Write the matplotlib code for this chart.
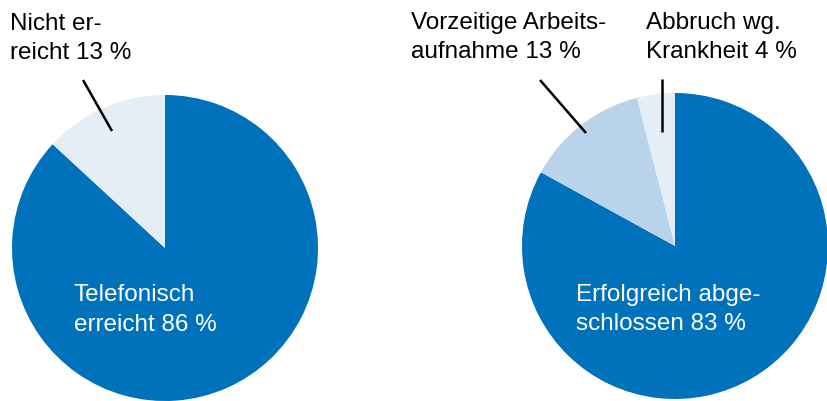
import matplotlib.pyplot as plt

# Data
left_labels = ["Telefonisch\nerreicht 86 %", "Nicht er-\nreicht 13 %"]
left_values = [86, 13]
right_labels = ["Erfolgreich abge-\nschlossen 83 %", "Vorzeitige Arbeits-\naufnahme 13 %",
                "Abbruch wg.\nKrankheit 4 %"]
right_values = [83, 13, 4]

dark = "#0071BB"
mid = "#B9D3EA"
light = "#E5EEF7"

W, H = 827, 401
fig = plt.figure(figsize=(W / 100, H / 100), dpi=100)
ax = fig.add_axes([0, 0, 1, 1])
plt.rcParams['font.family'] = ['Liberation Sans', 'DejaVu Sans']

# pies (pixel coords, y measured from bottom)
ax.pie(left_values, colors=[dark, light], startangle=90, counterclock=False,
       center=(165, H - 248), radius=153, wedgeprops=dict(linewidth=0))
ax.pie(right_values, colors=[dark, mid, light], startangle=90, counterclock=False,
       center=(675, H - 246), radius=153, wedgeprops=dict(linewidth=0))

ax.set_xlim(0, W)
ax.set_ylim(0, H)
ax.set_aspect("equal")
ax.axis("off")

fs = 17.5

def label(x, y, txt, step, color="black"):
    # one text per line, y = baseline of first line in pixels from top
    for i, line in enumerate(txt.split("\n")):
        ax.text(x, H - (y + i * step), line, fontsize=fs, va="baseline", ha="left", color=color)

# outside labels
label(10, 30, left_labels[1], 28.7)
label(411, 29.5, right_labels[1], 28.7)
label(646, 29.5, right_labels[2], 28.7)

# inner labels
label(74, 301, left_labels[0], 30, color="white")
label(576, 301, right_labels[0], 29.5, color="white")

# leader lines
for (x0, y0), (x1, y1) in [((83, 80), (112, 131)), ((540, 80), (586, 133)), ((662, 79), (662, 132))]:
    ax.plot([x0, x1], [H - y0, H - y1], color="black", lw=1.8, solid_capstyle="butt")

fig.savefig("out.png", dpi=100)
